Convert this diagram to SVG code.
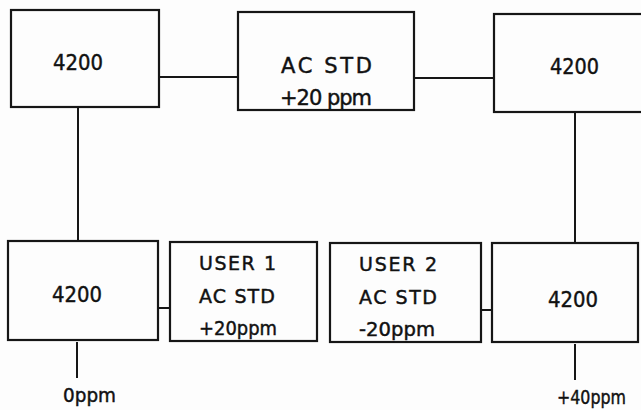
<svg xmlns="http://www.w3.org/2000/svg" width="641" height="410" viewBox="0 0 641 410">
<style>
.box{fill:none;stroke:#161616;stroke-width:2.2}
.ln{fill:none;stroke:#161616;stroke-width:2}
.t{font-family:"DejaVu Sans","Liberation Sans",sans-serif;fill:#111;stroke:#111;stroke-width:0.45;font-size:19px}
.big{font-size:21px}
</style>
<rect width="641" height="410" fill="#fdfdfd"/>
<g id="connectors">
<line class="ln" x1="159" y1="77" x2="238" y2="77"/>
<line class="ln" x1="414" y1="78" x2="494" y2="78"/>
<line class="ln" x1="78" y1="108" x2="78" y2="241"/>
<line class="ln" x1="575" y1="112" x2="575" y2="243"/>
<line class="ln" x1="158" y1="308" x2="170" y2="308"/>
<line class="ln" x1="481" y1="310" x2="493" y2="310"/>
<line class="ln" x1="77" y1="342" x2="77" y2="378"/>
<line class="ln" x1="575" y1="344" x2="575" y2="380"/>
</g>
<g id="n1">
<rect class="box" x="11" y="10" width="148" height="97"/>
<text class="t big" x="53" y="70" textLength="50" lengthAdjust="spacingAndGlyphs">4200</text>
</g>
<g id="n2">
<rect class="box" x="238" y="12" width="176" height="98"/>
<text class="t big" x="281" y="73" textLength="91">AC STD</text>
<text class="t big" x="280" y="105" textLength="92">+20 ppm</text>
</g>
<g id="n3">
<rect class="box" x="494" y="14" width="152" height="98"/>
<text class="t big" x="550" y="74" textLength="49" lengthAdjust="spacingAndGlyphs">4200</text>
</g>
<g id="n4">
<rect class="box" x="8" y="241" width="150" height="99"/>
<text class="t big" x="52" y="302" textLength="50" lengthAdjust="spacingAndGlyphs">4200</text>
</g>
<g id="n5">
<rect class="box" x="170" y="242" width="147" height="99"/>
<text class="t" x="199" y="270" textLength="77">USER 1</text>
<text class="t" x="199" y="303" textLength="76">AC STD</text>
<text class="t" x="199" y="335" textLength="78" lengthAdjust="spacingAndGlyphs">+20ppm</text>
</g>
<g id="n6">
<rect class="box" x="330" y="243" width="151" height="99"/>
<text class="t" x="359" y="271" textLength="78">USER 2</text>
<text class="t" x="359" y="304" textLength="78">AC STD</text>
<text class="t" x="359" y="336" textLength="76" lengthAdjust="spacingAndGlyphs">-20ppm</text>
</g>
<g id="n7">
<rect class="box" x="492" y="243" width="146" height="99"/>
<text class="t big" x="548" y="307" textLength="50" lengthAdjust="spacingAndGlyphs">4200</text>
</g>
<g id="labels">
<text class="t" x="63" y="402" textLength="53" lengthAdjust="spacingAndGlyphs">0ppm</text>
<text class="t" x="557" y="404" textLength="69" lengthAdjust="spacingAndGlyphs">+40ppm</text>
</g>
</svg>
